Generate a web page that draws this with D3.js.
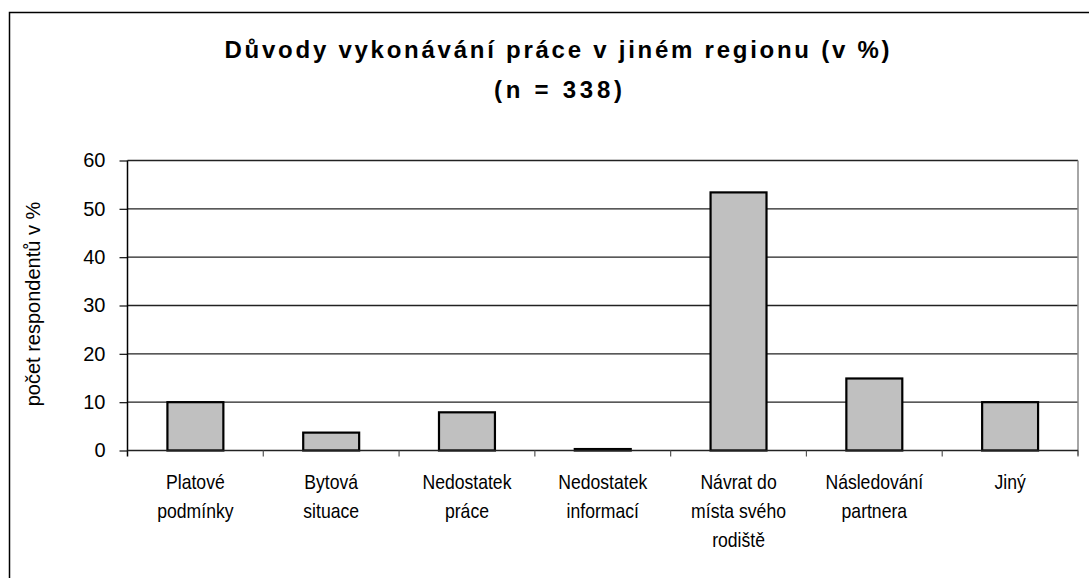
<!DOCTYPE html>
<html>
<head>
<meta charset="utf-8">
<script src="https://cdn.jsdelivr.net/npm/d3@7"></script>
<style>
  body { margin: 0; background: #fff; }
  svg { display: block; font-family: Arial, "Liberation Sans", sans-serif; }
</style>
</head>
<body>
<div class="wrapper"></div>
<script>
const w = 1089
const h = 578
const titleLines = ["Důvody vykonávání práce v jiném regionu (v %)", "(n = 338)"]
const yTitle = "počet respondentů v %"
const categories = [
  ["Platové", "podmínky"],
  ["Bytová", "situace"],
  ["Nedostatek", "práce"],
  ["Nedostatek", "informací"],
  ["Návrat do", "místa svého", "rodiště"],
  ["Následování", "partnera"],
  ["Jiný"]
]
const values = [10, 3.7, 7.9, 0.3, 53.4, 14.9, 10]
const yTicks = [0, 10, 20, 30, 40, 50, 60]

const plotLeft = 127.5
const plotRight = 1078
const plotTop = 160.5
const plotBottom = 450.5

const svg = d3.select(".wrapper")
  .append("svg")
  .attr("width", w)
  .attr("height", h)

// outer chart frame (only left and top edges visible)
svg.append("path")
  .attr("d", "M9.5," + h + "V12.5H" + w)
  .attr("fill", "none")
  .attr("stroke", "#000")
  .attr("stroke-width", 1.5)

const x = d3.scaleBand()
  .domain(d3.range(categories.length))
  .range([plotLeft, plotRight])
  .paddingInner(0.588)
  .paddingOuter(0.294)
const step = (plotRight - plotLeft) / categories.length

const y = d3.scaleLinear().domain([0, 60]).range([plotBottom, plotTop])

// gridlines
svg.append("g")
  .selectAll("line")
  .data(yTicks.filter(d => d > 0))
  .enter()
  .append("line")
  .attr("x1", plotLeft)
  .attr("x2", plotRight)
  .attr("y1", d => y(d))
  .attr("y2", d => y(d))
  .attr("stroke", "#222")
  .attr("stroke-width", 1.3)

// plot area right edge
svg.append("line")
  .attr("x1", plotRight).attr("x2", plotRight)
  .attr("y1", plotTop).attr("y2", plotBottom + 5)
  .attr("stroke", "#888")
  .attr("stroke-width", 1.5)

// bars
svg.selectAll("rect.bar")
  .data(values)
  .enter()
  .append("rect")
  .attr("class", "bar")
  .attr("x", (d, i) => x(i))
  .attr("y", d => y(d))
  .attr("width", x.bandwidth())
  .attr("height", d => plotBottom - y(d))
  .attr("fill", "#c0c0c0")
  .attr("stroke", "#000")
  .attr("stroke-width", 2.2)

// y axis
const yAxis = d3.axisLeft(y).tickValues(yTicks).tickSize(8).tickPadding(14)
const gy = svg.append("g")
  .attr("transform", "translate(" + plotLeft + ",0)")
  .call(yAxis)
gy.select(".domain").remove()
gy.append("line")
  .attr("x1", 0).attr("x2", 0)
  .attr("y1", plotTop).attr("y2", plotBottom + 6)
  .attr("stroke", "#000")
  .attr("stroke-width", 1.5)
gy.selectAll(".tick line").attr("stroke", "#222").attr("stroke-width", 1.3)
gy.selectAll(".tick text")
  .attr("fill", "#000")
  .style("font-size", "20px")
  .style("font-family", "Arial, 'Liberation Sans', sans-serif")

// x axis baseline and category ticks
const gx = svg.append("g")
gx.append("line")
  .attr("x1", plotLeft).attr("x2", plotRight)
  .attr("y1", plotBottom).attr("y2", plotBottom)
  .attr("stroke", "#222")
  .attr("stroke-width", 1.5)
gx.selectAll("line.tick")
  .data(d3.range(1, categories.length + 1))
  .enter()
  .append("line")
  .attr("class", "tick")
  .attr("x1", i => plotLeft + i * step)
  .attr("x2", i => plotLeft + i * step)
  .attr("y1", plotBottom)
  .attr("y2", plotBottom + 6)
  .attr("stroke", "#555")
  .attr("stroke-width", 1.2)

// category labels (slightly condensed, like the original rendering)
const labels = svg.append("g")
  .selectAll("text")
  .data(categories)
  .enter()
  .append("text")
  .attr("transform", (d, i) => "translate(" + (x(i) + x.bandwidth() / 2) + ",0) scale(0.88,1)")
  .attr("text-anchor", "middle")
  .attr("font-size", 20)
  .attr("fill", "#000")
labels.selectAll("tspan")
  .data(d => d)
  .enter()
  .append("tspan")
  .attr("x", 0)
  .attr("y", (d, j) => 489 + j * 29)
  .text(d => d)

// y axis title
svg.append("text")
  .attr("transform", "translate(40,304) rotate(-90)")
  .attr("text-anchor", "middle")
  .attr("font-size", 20)
  .text(yTitle)

// chart title
svg.append("text")
  .attr("x", 557)
  .attr("y", 58)
  .attr("text-anchor", "middle")
  .attr("font-size", 24)
  .attr("font-weight", "bold")
  .attr("textLength", 665)
  .attr("lengthAdjust", "spacing")
  .text(titleLines[0])
svg.append("text")
  .attr("x", 558)
  .attr("y", 98)
  .attr("text-anchor", "middle")
  .attr("font-size", 24)
  .attr("font-weight", "bold")
  .attr("textLength", 128)
  .attr("lengthAdjust", "spacing")
  .text(titleLines[1])
</script>
</body>
</html>
